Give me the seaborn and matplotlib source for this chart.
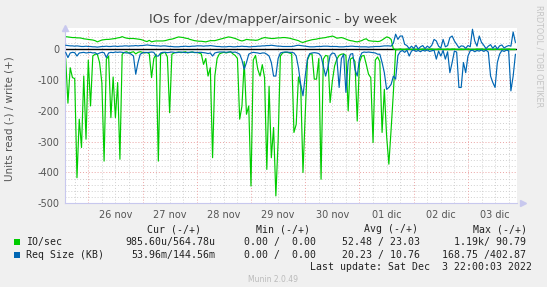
import matplotlib
matplotlib.use("Agg")
import matplotlib.pyplot as plt
import pandas as pd
import seaborn as sns
from matplotlib.patches import Rectangle

# ---------------- data (hourly samples, starting Nov 25 ~14:00) ----------------
hours = list(range(200))

io_write = [41, 40, 39, 38, 38, 37, 37, 36, 34, 33,
            32, 31, 30, 28, 24, 27, 30, 31, 32, 32,
            33, 34, 35, 37, 38, 41, 38, 36, 35, 35,
            35, 34, 33, 32, 30, 27, 25, 29, 24, 26,
            27, 27, 27, 27, 28, 30, 32, 33, 35, 38,
            40, 39, 38, 36, 35, 32, 30, 28, 27, 26,
            26, 25, 24, 26, 28, 28, 28, 30, 32, 34,
            36, 38, 40, 39, 37, 35, 32, 29, 27, 29,
            32, 31, 30, 30, 29, 30, 33, 36, 38, 37,
            36, 35, 35, 36, 37, 37, 38, 38, 37, 36,
            34, 32, 30, 28, 24, 22, 25, 27, 29, 31,
            32, 33, 35, 36, 37, 38, 40, 41, 43, 40,
            36, 37, 38, 36, 33, 30, 28, 27, 25, 24,
            26, 28, 32, 34, 28, 27, 26, 26, 25, 26,
            30, 35, 40, 38, 32, 1, 0, 0, 1, 0,
            0, 1, 0, 0, 1, 0, 0, 0, 1, 0,
            0, 0, 1, 0, 0, 1, 0, 0, 0, 1,
            0, 1, 0, 0, 0, 1, 0, 0, 1, 0,
            0, 0, 1, 0, 1, 0, 0, 0, 1, 0,
            1, 0, 0, 1, 0, 0, 1, 0, 0, 0]

io_read = [-30, -175, -60, -92, -95, -417, -227, -319, -87, -292,
           -35, -184, -22, -16, -16, -43, -108, -363, -32, -22,
           -222, -90, -222, -108, -357, -16, -10, -8, -12, -10,
           -8, -15, -10, -8, -10, -12, -10, -15, -92, -30,
           -16, -363, -16, -12, -10, -25, -206, -16, -12, -10,
           -9, -11, -10, -8, -12, -10, -9, -11, -10, -12,
           -15, -49, -30, -87, -60, -352, -87, -30, -15, -12,
           -10, -12, -10, -8, -15, -20, -30, -227, -184, -40,
           -211, -184, -444, -35, -20, -65, -87, -50, -92, -390,
           -120, -352, -254, -476, -298, -22, -12, -10, -10, -12,
           -15, -270, -244, -90, -120, -400, -211, -35, -16, -15,
           -97, -97, -30, -422, -32, -20, -22, -173, -103, -54,
           -32, -20, -16, -15, -20, -200, -32, -27, -40, -233,
           -43, -22, -20, -49, -81, -92, -303, -35, -25, -40,
           -270, -130, -281, -373, -260, -140, -2, -1, -1, -1,
           -1, -1, 0, -1, -1, -1, 0, -1, -1, -1,
           -1, 0, -1, -1, -1, -1, 0, -1, -1, -1,
           -1, -1, 0, -1, -1, -1, -1, 0, -1, -1,
           -1, -1, -1, 0, -1, -1, -1, 0, -1, -1,
           -1, 0, -1, -1, -1, 0, -1, -1, -1, -1]

req_write = [13, 12, 11, 11, 10, 11, 10, 9, 9, 10,
             9, 9, 8, 8, 7, 8, 9, 9, 10, 9,
             9, 10, 10, 9, 10, 10, 11, 11, 10, 11,
             11, 12, 11, 12, 12, 13, 14, 13, 12, 12,
             11, 11, 10, 11, 11, 10, 9, 9, 8, 8,
             8, 9, 9, 10, 9, 9, 10, 10, 11, 11,
             11, 10, 11, 11, 12, 11, 10, 9, 9, 8,
             8, 8, 9, 9, 8, 8, 9, 9, 10, 9,
             9, 8, 8, 9, 9, 10, 10, 11, 11, 12,
             12, 13, 12, 11, 10, 10, 9, 9, 9, 9,
             9, 10, 12, 13, 12, 11, 10, 9, 8, 8,
             8, 9, 9, 9, 10, 10, 10, 9, 9, 9,
             9, 8, 8, 8, 9, 9, 10, 10, 9, 9,
             8, 8, 8, 8, 7, 8, 8, 9, 9, 9,
             10, 11, 11, 11, 10, 20, 49, 32, 43, 43,
             16, 12, 2, 10, 3, 13, 1, 8, 12, 2,
             10, 5, 13, 32, 27, 10, 4, 32, 8, 12,
             38, 43, 27, 16, 5, 11, 10, 3, 12, 8,
             65, 27, 10, 43, 22, 13, 2, 10, 15, 3,
             12, 1, 11, 14, 4, 9, 12, 10, 56, 22]

req_read = [-10, -27, -12, -10, -11, -22, -12, -11, -10, -12,
            -11, -10, -12, -11, -16, -12, -10, -11, -27, -12,
            -10, -11, -9, -10, -9, -10, -11, -12, -12, -16,
            -22, -81, -43, -16, -12, -10, -11, -10, -9, -10,
            -22, -22, -12, -10, -10, -11, -10, -9, -10, -11,
            -10, -9, -10, -11, -10, -10, -9, -10, -11, -10,
            -10, -11, -12, -14, -12, -22, -12, -10, -9, -9,
            -9, -10, -9, -9, -10, -9, -12, -16, -35, -65,
            -43, -16, -12, -10, -11, -12, -14, -12, -12, -16,
            -22, -43, -87, -87, -30, -12, -10, -9, -9, -10,
            -10, -12, -22, -60, -114, -151, -87, -30, -14, -12,
            -11, -12, -14, -22, -54, -87, -60, -20, -12, -14,
            -30, -124, -30, -16, -140, -40, -16, -14, -65, -87,
            -30, -12, -9, -10, -9, -10, -11, -12, -16, -16,
            -43, -76, -130, -124, -114, -87, -97, -20, -8, -4,
            -10, -3, -22, -6, -2, -7, -4, -8, -3, -6,
            -2, -7, -5, -3, -32, -6, -22, -4, -32, -8,
            -76, -43, -6, -9, -124, -124, -43, -76, -22, -5,
            -3, -8, -4, -6, -2, -7, -3, -9, -87, -108,
            -124, -43, -16, -4, -7, -3, -5, -135, -87, -16]

day_labels = ["26 nov", "27 nov", "28 nov", "29 nov", "30 nov", "01 dic", "02 dic", "03 dic"]
midnight_hours = [10, 34, 58, 82, 106, 130, 154, 178]
y_ticks = [0, -100, -200, -300, -400, -500]

series_names = ["IO/sec", "Req Size (KB)"]
stat_headers = ["Cur (-/+)", "Min (-/+)", "Avg (-/+)", "Max (-/+)"]
io_stats = ["985.60u/564.78u", "0.00 /  0.00", "52.48 / 23.03", "1.19k/ 90.79"]
req_stats = ["53.96m/144.56m", "0.00 /  0.00", "20.23 / 10.76", "168.75 /402.87"]
last_update = "Last update: Sat Dec  3 22:00:03 2022"

GREEN = "#00CC00"
BLUE = "#0066B3"
BG = "#F0F0F0"
TXT = "#555555"

# ---------------- figure ----------------
sns.set_style("white")
plt.rcParams["font.family"] = ["DejaVu Sans"]

W, H = 547, 287
fig = plt.figure(figsize=(W / 100, H / 100), dpi=100, facecolor=BG)

def fx(px):
    return px / W

def fy(py):
    return 1 - py / H

ax_l, ax_r, ax_t, ax_b = 65, 517, 27.7, 203.3
ax = fig.add_axes([fx(ax_l), fy(ax_b), (ax_r - ax_l) / W, (ax_b - ax_t) / H])
ax.set_facecolor("white")

x0, x1 = -0.3, 199.7
ax.set_xlim(x0, x1)
ax.set_ylim(-500, 70)

# grid
dot = (0, (1, 2))
for h in range(4, 200, 6):
    if h not in midnight_hours:
        ax.axvline(h, color="#d0d0d0", lw=0.7, ls=dot, zorder=0.5)
for v in range(-480, 70, 20):
    if v % 100 != 0:
        ax.axhline(v, color="#d0d0d0", lw=0.7, ls=dot, zorder=0.5)
for h in midnight_hours:
    ax.axvline(h, color="#eba3a3", lw=0.7, ls=dot, zorder=0.6)
for v in y_ticks:
    ax.axhline(v, color="#eba3a3", lw=0.7, ls=dot, zorder=0.6)

ax.axhline(0, color="black", lw=1.0, zorder=1.5)

df = pd.DataFrame({"h": hours, "io_w": io_write, "io_r": io_read,
                   "rq_w": req_write, "rq_r": req_read})
sns.lineplot(data=df, x="h", y="io_r", color=GREEN, lw=0.85, ax=ax, zorder=2)
sns.lineplot(data=df, x="h", y="io_w", color=GREEN, lw=0.85, ax=ax, zorder=2)
sns.lineplot(data=df, x="h", y="rq_r", color=BLUE, lw=0.85, ax=ax, zorder=3)
sns.lineplot(data=df, x="h", y="rq_w", color=BLUE, lw=0.85, ax=ax, zorder=3)

# axes styling
for s in ["top", "right"]:
    ax.spines[s].set_visible(False)
for s in ["left", "bottom"]:
    ax.spines[s].set_color("#c8c8ee")
    ax.spines[s].set_linewidth(0.8)

ax.set_xlabel("")
ax.set_ylabel("")
ax.set_yticks(y_ticks)
ax.set_yticklabels([str(v) for v in y_ticks])
ax.set_xticks([m + 12 for m in midnight_hours])
ax.set_xticklabels(day_labels)
ax.tick_params(axis="both", length=0, labelsize=7, labelcolor=TXT, pad=4)
ax.tick_params(axis="x", pad=4.5)

# arrows on axes
ax.plot([x0], [70], marker="^", ms=4, color="#c8c8ee", clip_on=False, zorder=5)
ax.plot([x1 + 2.5], [-500], marker=">", ms=4, color="#c8c8ee", clip_on=False, zorder=5)

# texts
fig.text(fx(273), fy(20), "IOs for /dev/mapper/airsonic - by week", ha="center", va="center",
         fontsize=9.2, color="#444444")
fig.text(fx(10), fy(119), "Units read (-) / write (+)", rotation=90, ha="center", va="center",
         fontsize=7.5, color=TXT)
fig.text(fx(539), fy(56), "RRDTOOL / TOBI OETIKER", rotation=270, ha="center", va="center",
         fontsize=5.8, color="#c4c4c4")

mono = dict(family="DejaVu Sans Mono", fontsize=7.1, color="#222222", va="center")
header_x = [147, 256, 364, 473]
value_right = [215.6, 316, 420, 526]
for hx, t in zip(header_x, stat_headers):
    fig.text(fx(hx), fy(229), t, ha="left", **mono)

rows = [(242, GREEN, series_names[0], io_stats), (255, BLUE, series_names[1], req_stats)]
for yy, col, name, stats in rows:
    fig.patches.append(Rectangle((fx(14), fy(yy + 3)), 5.5 / W, 6 / H, transform=fig.transFigure,
                                 facecolor=col, edgecolor="none"))
    fig.text(fx(26), fy(yy), name, ha="left", **mono)
    for rx, t in zip(value_right, stats):
        fig.text(fx(rx), fy(yy), t, ha="right", **mono)

fig.text(fx(532), fy(267), last_update, ha="right", **mono)
fig.text(fx(273), fy(280), "Munin 2.0.49", ha="center", va="center", fontsize=5.5, color="#bbbbbb")

fig.savefig("out.png", dpi=100, facecolor=BG)
